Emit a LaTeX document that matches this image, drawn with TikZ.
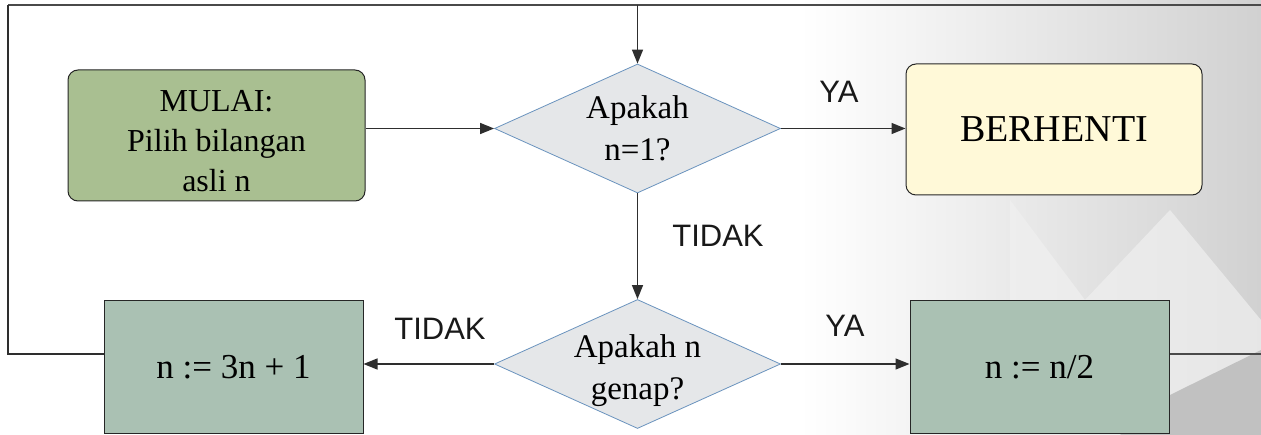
\documentclass[tikz,border=0pt]{standalone}
\usepackage{fontspec}
\setmainfont{Liberation Serif}
\newfontfamily\labelfont{Liberation Sans}
\usetikzlibrary{shapes.geometric,arrows.meta}
\definecolor{startgreen}{HTML}{A9BF91}
\definecolor{procgreen}{HTML}{AAC1B3}
\definecolor{stopyellow}{HTML}{FFF9D8}
\definecolor{decfill}{HTML}{E5E7E9}
\definecolor{decline}{HTML}{6A93BE}
\definecolor{linegray}{HTML}{2E2E2E}
\definecolor{loopgray}{HTML}{4A4A4A}
\tikzset{
  starttext/.style={font=\fontsize{32}{40}\selectfont, align=center, inner sep=0pt},
  startbox/.style={draw=black!85, fill=startgreen, rounded corners=10pt, minimum width=297pt, minimum height=131pt, line width=1pt, inner sep=0pt},
  stopbox/.style={draw=black!85, fill=stopyellow, rounded corners=10pt, minimum width=296pt, minimum height=131pt, align=center, font=\fontsize{38}{44}\selectfont, line width=1pt, inner sep=0pt},
  procbox/.style={draw=black!85, fill=procgreen, minimum width=259pt, minimum height=132pt, align=center, font=\fontsize{35}{40}\selectfont, line width=1pt, inner sep=0pt},
  decbox/.style={diamond, draw=decline, fill=decfill, minimum width=286pt, minimum height=129pt, line width=0.8pt, inner sep=0pt},
  dectext/.style={font=\fontsize{33}{42}\selectfont, align=center, inner sep=0pt},
  conn/.style={draw=linegray, line width=1.3pt, -{Triangle[length=14pt,width=11pt]}},
  plainline/.style={draw=linegray, line width=1.2pt},
  loopline/.style={draw=loopgray, line width=1.8pt},
  lbl/.style={font=\labelfont\fontsize{31}{36}\selectfont, text=black!90, inner sep=0pt}
}
\begin{document}
\begin{tikzpicture}[x=1pt,y=-1pt]
\useasboundingbox (0,0) rectangle (1261,435);
% background
\fill[white] (0,0) rectangle (1261,435);
\shade[left color=white, right color=black!18] (800,0) rectangle (1261,435);
\fill[black!6, opacity=0.7] (1010,200) -- (1085,300) -- (1170,210) -- (1261,320) -- (1261,435) -- (1010,435) -- cycle;
\fill[black!28, opacity=0.8] (1120,435) -- (1170,395) -- (1261,350) -- (1261,435) -- cycle;
% nodes
\node[startbox, label={[starttext, yshift=-6pt]center:MULAI:\\Pilih bilangan\\asli n}] (start) at (216.5,135.5) {};
\node[decbox, label={[dectext]center:Apakah\\n=1?}] (q1) at (637.5,128.5) {};
\node[stopbox] (stop) at (1054,129.5) {BERHENTI};
\node[decbox, label={[dectext, yshift=-7pt]center:Apakah n\\genap?}] (q2) at (637.5,364) {};
\node[procbox] (odd) at (233.5,367) {n := 3n + 1};
\node[procbox] (even) at (1039.5,367) {n := n/2};
% loop coordinates
\coordinate (tl) at (8,5);
\coordinate (tr) at (1261,5);
\coordinate (ll) at (8,354);
\coordinate (rr) at (1261,354);
% connectors
\draw[loopline] (tl) -- (tr);
\draw[plainline] (odd.west |- ll) -- (ll) -- (tl);
\draw[conn] (q1.north |- tl) -- (q1.north);
\draw[conn] (start.east |- q1.west) -- (q1.west);
\draw[conn] (q1.east) -- (q1.east -| stop.west);
\draw[conn] (q1.south) -- (q2.north);
\draw[conn] (q2.west) -- (q2.west -| odd.east);
\draw[conn] (q2.east) -- (q2.east -| even.west);
\draw[loopline] (even.east |- rr) -- (rr);
% labels
\node[lbl] (ya1) at (839,92) {YA};
\node[lbl] (tidak1) at (718,236) {TIDAK};
\node[lbl] (tidak2) at (440,329) {TIDAK};
\node[lbl] (ya2) at (845,326) {YA};
\end{tikzpicture}
\end{document}
